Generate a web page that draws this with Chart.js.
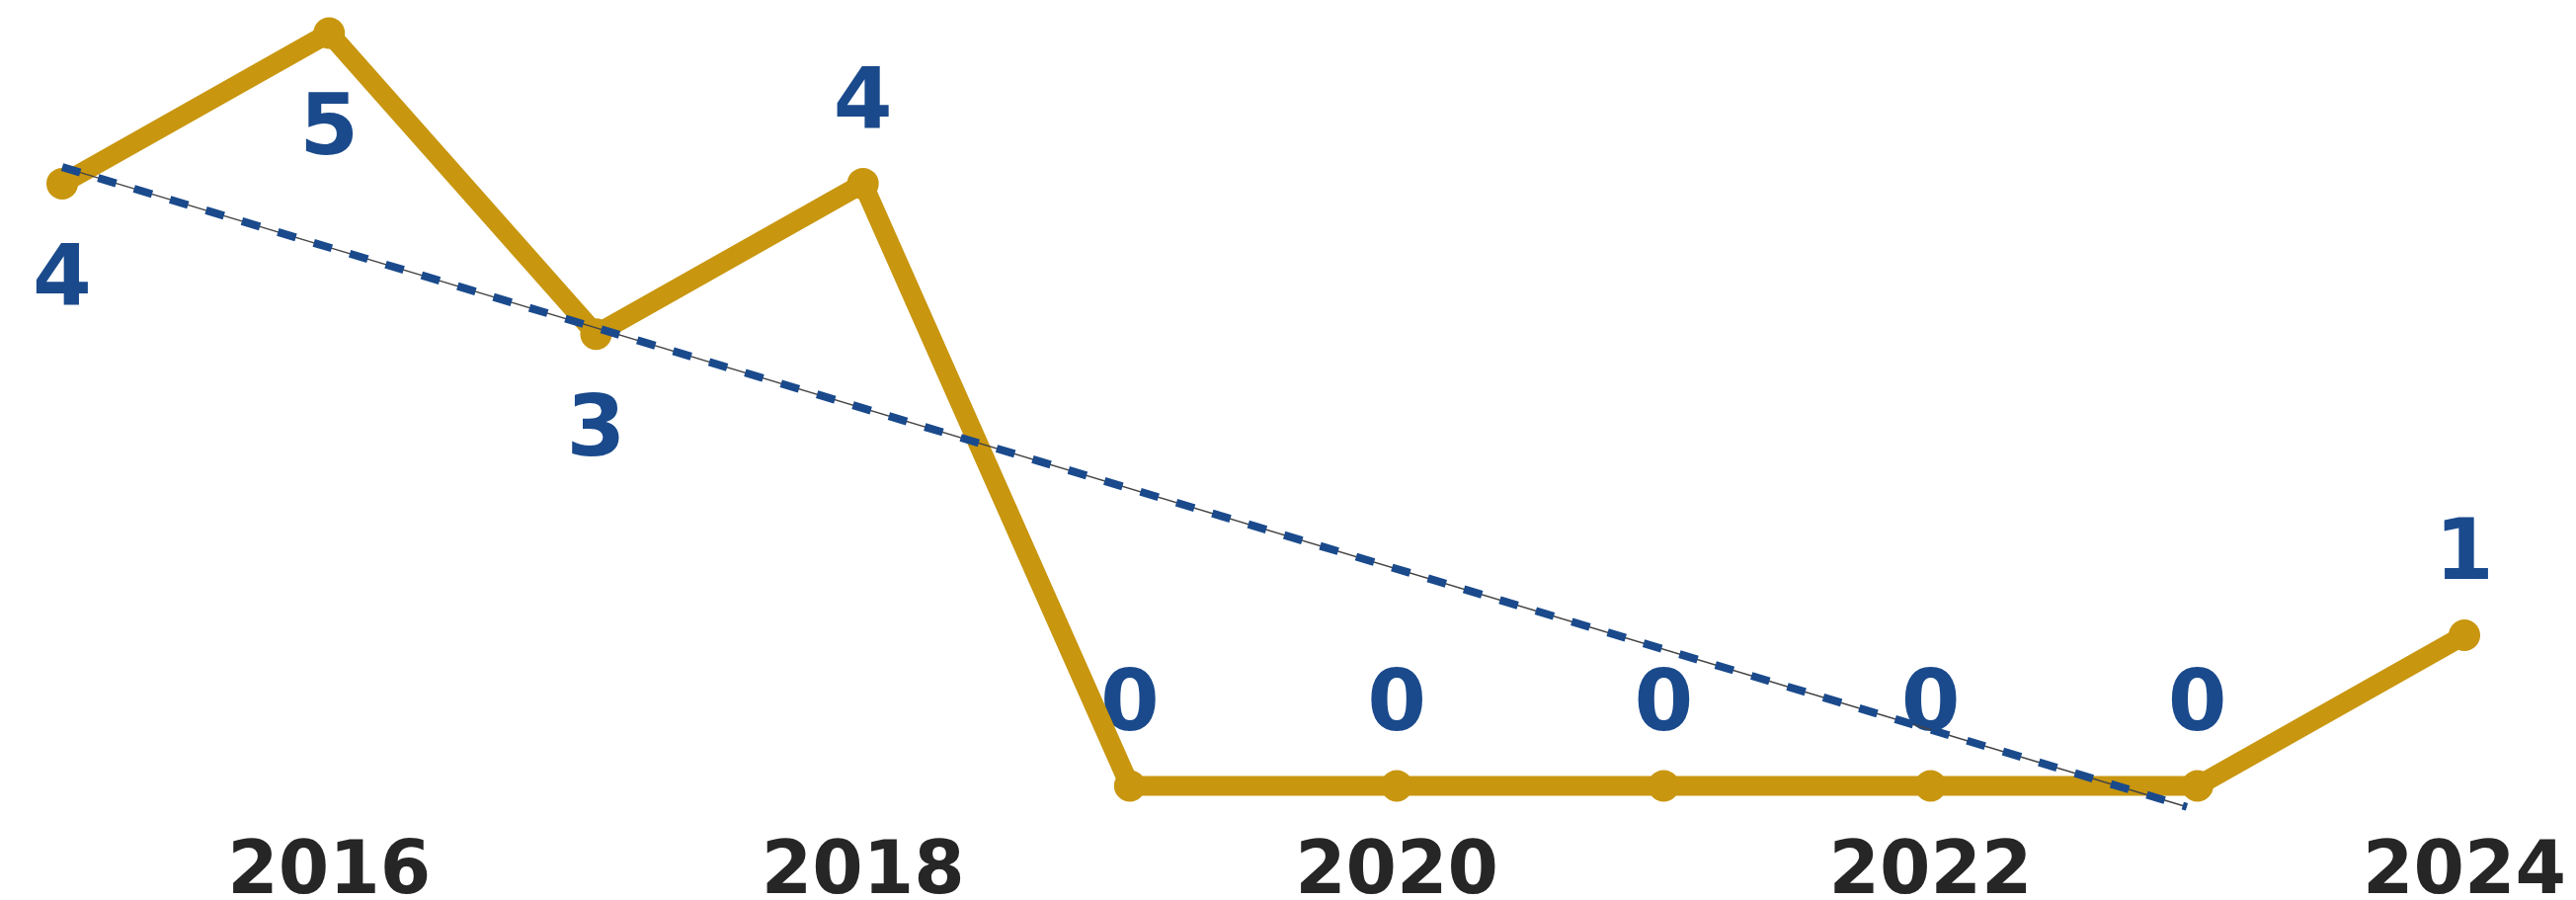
<!DOCTYPE html>
<html>
<head>
<meta charset="utf-8">
<script src="https://cdn.jsdelivr.net/npm/chart.js@4/dist/chart.umd.min.js"></script>
<style>
  html, body { margin: 0; padding: 0; background: #fff; }
  #wrap { width: 2608px; height: 911px; }
</style>
</head>
<body>
<div id="wrap"><canvas id="trendChart"></canvas></div>
<script>
// values
const years = [2015, 2016, 2017, 2018, 2019, 2020, 2021, 2022, 2023, 2024];
const counts = [4, 5, 3, 4, 0, 0, 0, 0, 0, 1];
// trend line ends
const trendYears = [2015, 2022.96];
const trendValues = [4.11, -0.14];

const gold = '#c8960f';
const blue = '#1a4a8c';

const countPoints = years.map((y, i) => ({ x: y, y: counts[i] }));
const trendPoints = trendYears.map((y, i) => ({ x: y, y: trendValues[i] }));

// draws the blue numbers next to each point
const valueLabels = {
    id: 'valueLabels',
    beforeDatasetsDraw(chart) {
        const meta = chart.getDatasetMeta(2);
        const ctx = chart.ctx;
        ctx.save();
        ctx.font = 'bold 86px "DejaVu Sans"';
        ctx.fillStyle = blue;
        ctx.textAlign = 'center';
        ctx.textBaseline = 'middle';
        meta.data.forEach((pt, i) => {
            const below = i < 3; // first three sit under their point
            ctx.fillText(String(counts[i]), pt.x, pt.y + (below ? 100 : -79));
        });
        ctx.restore();
    }
};

const canvas = document.getElementById('trendChart');
new Chart(canvas.getContext('2d'), {
    type: 'line',
    data: {
        datasets: [
            {
                data: trendPoints,
                borderColor: blue,
                borderWidth: 8,
                borderDash: [19, 19],
                pointRadius: 0,
                tension: 0,
                clip: false
            },
            {
                data: trendPoints,
                borderColor: '#444',
                borderWidth: 1.5,
                pointRadius: 0,
                tension: 0,
                clip: false
            },
            {
                data: countPoints,
                borderColor: gold,
                backgroundColor: gold,
                borderWidth: 20,
                pointRadius: 16,
                pointBorderWidth: 0,
                pointBackgroundColor: gold,
                tension: 0,
                clip: false
            }
        ]
    },
    options: {
        responsive: true,
        maintainAspectRatio: false,
        animation: false,
        layout: { autoPadding: false, padding: { left: 63, right: 113, top: 0, bottom: 0 } },
        plugins: {
            legend: { display: false },
            tooltip: { enabled: false }
        },
        scales: {
            x: {
                type: 'linear',
                min: 2015,
                max: 2024,
                grid: { display: false, drawTicks: false },
                border: { display: false },
                afterFit: (scale) => { scale.height = 76; },
                ticks: {
                    stepSize: 1,
                    autoSkip: false,
                    maxRotation: 0,
                    padding: 5,
                    color: '#262626',
                    font: { family: 'DejaVu Sans', weight: 'bold', size: 74 },
                    callback: (value) => (value % 2 === 0 ? String(value) : '')
                }
            },
            y: {
                display: false,
                min: -0.26,
                max: 5.22
            }
        }
    },
    plugins: [valueLabels]
});
</script>
</body>
</html>
